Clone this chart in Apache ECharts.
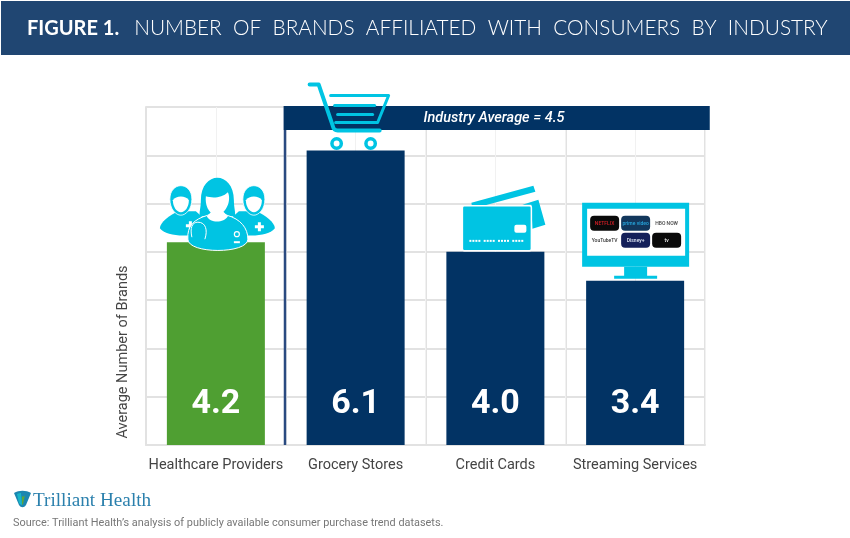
<!DOCTYPE html>
<html>
<head>
<meta charset="utf-8">
<title>Number of brands by industry</title>
<script src="https://cdn.jsdelivr.net/npm/echarts@6/dist/echarts.min.js"></script>
<style>
  html, body { margin: 0; padding: 0; background: #fff; }
  #main { width: 850px; height: 538px; }
</style>
</head>
<body>
<div id="main"></div>
<script>
var categories = ['Healthcare Providers', 'Grocery Stores', 'Credit Cards', 'Streaming Services']
var brandCounts = [4.2, 6.1, 4.0, 3.4]
var industryAverage = 4.5
var yTicks = [0, 1, 2, 3, 4, 5, 6, 7]

var NAVY = '#023364'
var GREEN = '#4f9f32'
var CYAN = '#00c4e3'
var GRID = '#e2e2e2'

var chart = echarts.init(document.getElementById('main'), null, { renderer: 'canvas' })

chart.setOption({
  animation: false,
  backgroundColor: '#fff',
  title: {
    left: 27,
    top: 18,
    padding: 0,
    text: '{a|FIGURE 1.}   {b|NUMBER  OF  BRANDS  AFFILIATED  WITH  CONSUMERS  BY  INDUSTRY}',
    textStyle: {
      rich: {
        a: { fontFamily: 'Lato', fontSize: 20, fontWeight: 700, color: '#fff' },
        b: { fontFamily: 'Lato', fontSize: 20.8, fontWeight: 300, color: '#fff' }
      }
    },
    z: 10
  },
  grid: { left: 146, right: 145, top: 107, bottom: 93 },
  xAxis: [
    {
      type: 'category',
      data: categories,
      axisTick: { show: false },
      axisLine: { lineStyle: { color: GRID, width: 2 } },
      axisLabel: { fontFamily: 'Roboto', fontSize: 14.5, color: '#444', margin: 13, interval: 0 },
      splitLine: { show: true, lineStyle: { color: GRID, width: 2 } }
    },
    {
      // faint lines down the middle of each category
      type: 'value',
      min: 0,
      max: 8,
      interval: 1,
      show: true,
      position: 'bottom',
      axisLine: { show: false },
      axisTick: { show: false },
      axisLabel: { show: false },
      splitLine: { show: true, lineStyle: { color: '#f1f1f1', width: 1 } }
    }
  ],
  yAxis: {
    type: 'value',
    min: yTicks[0],
    max: yTicks[yTicks.length - 1],
    interval: 1,
    name: 'Average Number of Brands',
    nameLocation: 'middle',
    nameGap: 15,
    nameTextStyle: { fontFamily: 'Roboto', fontSize: 14.5, color: '#444', padding: [0, 152, 0, 0] },
    axisLine: { show: true, lineStyle: { color: GRID, width: 2 } },
    axisTick: { show: false },
    axisLabel: { show: false },
    splitLine: { lineStyle: { color: GRID, width: 2 } }
  },
  series: [{
    type: 'bar',
    data: brandCounts,
    barWidth: 98,
    itemStyle: {
      color: function (params) {
        return params.dataIndex === 0 ? GREEN : NAVY
      }
    },
    label: {
      show: true,
      position: 'insideBottom',
      distance: 24,
      fontFamily: 'Roboto',
      fontWeight: 700,
      fontSize: 34,
      color: '#fff',
      formatter: function (params) {
        return params.value.toFixed(1)
      }
    },
    z: 3
  }]
})

// small helpers for the drawn icons
var pathCount = 0
function rect (x, y, w, h, fill, r) {
  return { type: 'rect', shape: { x: x, y: y, width: w, height: h, r: r || 0 }, style: { fill: fill } }
}
function path (d, style) {
  // the graphic component has no plain path type, so each svg path gets registered
  var name = 'iconPath' + pathCount++
  echarts.graphic.registerShape(name, echarts.graphic.extendPath(d))
  return { type: name, style: style }
}
function label (x, y, text, size, fill, weight) {
  return {
    type: 'text', x: x, y: y,
    style: { text: text, fontFamily: 'Roboto', fontSize: size, fontWeight: weight || 500, fill: fill, align: 'center', verticalAlign: 'middle' }
  }
}

function doctors () {
  var white = { fill: '#fff' }
  var cyan = { fill: CYAN }
  return [
    // left man
    path('M-56 -14 C-56 -20 -46 -27 -38 -31 L-20 -31 L-10 -22 L-14 -9 C-30 -5 -50 -6 -56 -14 Z', cyan),
    path('M-46 -43 C-46 -61 -24 -61 -24 -43 C-24 -33 -30 -27 -35 -27 C-40 -27 -46 -33 -46 -43 Z', { fill: CYAN, stroke: '#fff', lineWidth: 0.8 }),
    path('M-43 -42 C-40 -47 -30 -47 -27 -42 C-27 -35 -31 -30 -35 -30 C-39 -30 -43 -35 -43 -42 Z', white),
    path('M-27 -21 h3 v3 h3 v3 h-3 v3 h-3 v-3 h-3 v-3 h3 Z', white),
    // right man
    path('M59 -14 C59 -20 49 -27 41 -31 L23 -31 L13 -22 L17 -9 C33 -5 53 -6 59 -14 Z', cyan),
    path('M27 -43 C27 -61 49 -61 49 -43 C49 -33 43 -27 38 -27 C33 -27 27 -33 27 -43 Z', { fill: CYAN, stroke: '#fff', lineWidth: 0.8 }),
    path('M30 -42 C33 -47 43 -47 46 -42 C46 -35 42 -30 38 -30 C34 -30 30 -35 30 -42 Z', white),
    path('M42 -20 h3 v3 h3 v3 h-3 v3 h-3 v-3 h-3 v-3 h3 Z', white),
    // woman
    path('M-15 -42 C-15 -72 18 -72 18 -42 C18 -34 20 -30 19 -26 L-16 -26 C-17 -30 -15 -34 -15 -42 Z', cyan),
    path('M-28 -3 C-29 -16 -22 -23 -8 -27 L-3 -29 L7 -29 L11 -27 C25 -23 32 -14 32 -3 C32 12 -28 12 -28 -3 Z', { fill: CYAN, stroke: '#fff', lineWidth: 1 }),
    path('M-10 -46 C-4 -44 6 -44 12 -50 C15 -44 13 -31 1 -26 C-8 -29 -11 -38 -10 -46 Z', white),
    path('M-9 -26 C-6 -19 8 -19 12 -26 L7 -31 L-4 -31 Z', white),
    path('M-18 -20 C-24 -20 -26 -14 -24 -5 M-18 -20 C-10 -20 -8 -12 -11 -3', { fill: 'none', stroke: '#fff', lineWidth: 1 }),
    { type: 'circle', shape: { cx: 21, cy: -8, r: 2.5 }, style: { fill: CYAN, stroke: '#fff', lineWidth: 1.2 } },
    rect(18, -1, 6, 2, '#fff')
  ]
}

function cart () {
  var line = { fill: 'none', stroke: CYAN, lineWidth: 4, lineCap: 'round', lineJoin: 'round' }
  var thin = { fill: 'none', stroke: CYAN, lineWidth: 3, lineCap: 'round', lineJoin: 'round' }
  return [
    path('M-46 -66 L-37 -66 L-23 -25 C-22 -21 -21 -20 -18 -20 L24 -20', line),
    path('M-25 -55 L33 -55 L22 -28 L-20 -28', thin),
    path('M-21 -45 L19 -45', thin),
    path('M-18 -36 L17 -36', thin),
    { type: 'circle', shape: { cx: -19, cy: -7, r: 4.7 }, style: { fill: '#fff', stroke: CYAN, lineWidth: 3.5 } },
    { type: 'circle', shape: { cx: 15, cy: -7, r: 4.7 }, style: { fill: '#fff', stroke: CYAN, lineWidth: 3.5 } }
  ]
}

function creditCard () {
  var children = [
    path('M-24 -49 L38 -66 L40 -60 L-23 -43 Z', { fill: CYAN }),
    path('M27 -47 L43 -52 L50 -27 L37 -23 L36 -47 Z', { fill: CYAN }),
    { type: 'rect', shape: { x: -33, y: -46, width: 69, height: 45, r: 2 }, style: { fill: CYAN, stroke: '#fff', lineWidth: 1.5 } },
    rect(19, -27, 12, 8, '#fff', 2)
  ]
  for (var g = 0; g < 4; g++) {
    for (var i = 0; i < 4; i++) {
      children.push(rect(-26 + g * 14.3 + i * 3, -12, 2, 2, '#fff'))
    }
  }
  return children
}

function tv () {
  var tiles = [
    [-45, -65, '#0a0a0a', 'NETFLIX', '#d81f26'],
    [-14, -65, '#12375c', 'prime video', '#27a9e0'],
    [17, -65, '#fff', 'HBO NOW', '#444'],
    [-45, -48, '#fff', 'YouTubeTV', '#333'],
    [-14, -48, '#14205a', 'Disney+', '#dfe7f5'],
    [17, -48, '#0a0a0a', 'tv', '#eee']
  ]
  var children = [
    rect(-53, -78, 107, 64, CYAN),
    rect(-48, -72, 98, 47, '#fff'),
    rect(-11, -14, 23, 10, CYAN),
    rect(-21, -5, 43, 3, CYAN)
  ]
  tiles.forEach(function (t) {
    children.push(rect(t[0], t[1], 29, 15, t[2], 4))
    children.push(label(t[0] + 14.5, t[1] + 7.5, t[3], 5, t[4]))
  })
  return children
}

// z does not carry from a group to its children here
function atZ (elements, z) {
  elements.forEach(function (el, i) {
    el.z = z
    el.zlevel = 0
  })
  return elements
}

// the icons sit on the top of their bars, the banner and rule are tied to the grid
var iconBuilders = [doctors, cart, creditCard, tv]
var icons = iconBuilders.map(function (build, i) {
  var at = chart.convertToPixel({ xAxisIndex: 0, yAxisIndex: 0 }, [i, brandCounts[i]])
  return { type: 'group', x: at[0], y: at[1], children: atZ(build(), 20) }
})

var firstBar = chart.convertToPixel({ xAxisIndex: 0 }, 0)
var secondBar = chart.convertToPixel({ xAxisIndex: 0 }, 1)
var ruleX = (firstBar + secondBar) / 2 - 1
var gridTop = chart.convertToPixel({ yAxisIndex: 0 }, 7)
var gridBottom = chart.convertToPixel({ yAxisIndex: 0 }, 0)

chart.setOption({
  graphic: [
    // header band, under the title
    { type: 'rect', z: 1, zlevel: 0, shape: { x: 1, y: 1, width: 849, height: 54 }, style: { fill: '#204672' } },
    // industry average banner
    { type: 'rect', z: 10, shape: { x: ruleX - 1, y: gridTop - 1, width: 2.5, height: gridBottom - gridTop + 1 }, style: { fill: '#2a4a80' } },
    { type: 'rect', z: 10, shape: { x: ruleX - 1, y: gridTop - 1, width: 426, height: 24 }, style: { fill: NAVY } },
    {
      type: 'text', z: 11, x: 494, y: gridTop + 11,
      style: {
        text: 'Industry Average = ' + industryAverage,
        fontFamily: 'Roboto', fontStyle: 'italic', fontWeight: 500, fontSize: 14.5, fill: '#fff',
        align: 'center', verticalAlign: 'middle'
      }
    },
    // logo
    Object.assign(path('M14 493 C19 490 26 490 31 493 L26 505 C24 508 21 508 19 505 Z', { fill: '#1b86b0' }), { z: 5 }),
    Object.assign(path('M17 494 C19 493 20 493 21 493 L22 505 C21 505 20 504 19 503 Z', { fill: '#17b6c9' }), { z: 6 }),
    Object.assign(path('M22 496 C23 497 24 497 25 495 L23 504 L22 505 Z', { fill: '#5da63a' }), { z: 6 }),
    {
      type: 'text', z: 5, x: 33, y: 501,
      style: { text: 'Trilliant Health', fontFamily: 'Liberation Serif', fontSize: 19.2, fill: '#2b80ad', verticalAlign: 'middle' }
    },
    {
      type: 'text', z: 5, x: 13, y: 523,
      style: { text: 'Source: Trilliant Health\u2019s analysis of publicly available consumer purchase trend datasets.', fontFamily: 'Roboto', fontSize: 10.9, fill: '#777', verticalAlign: 'middle' }
    }
  ].concat(icons)
})
</script>
</body>
</html>
